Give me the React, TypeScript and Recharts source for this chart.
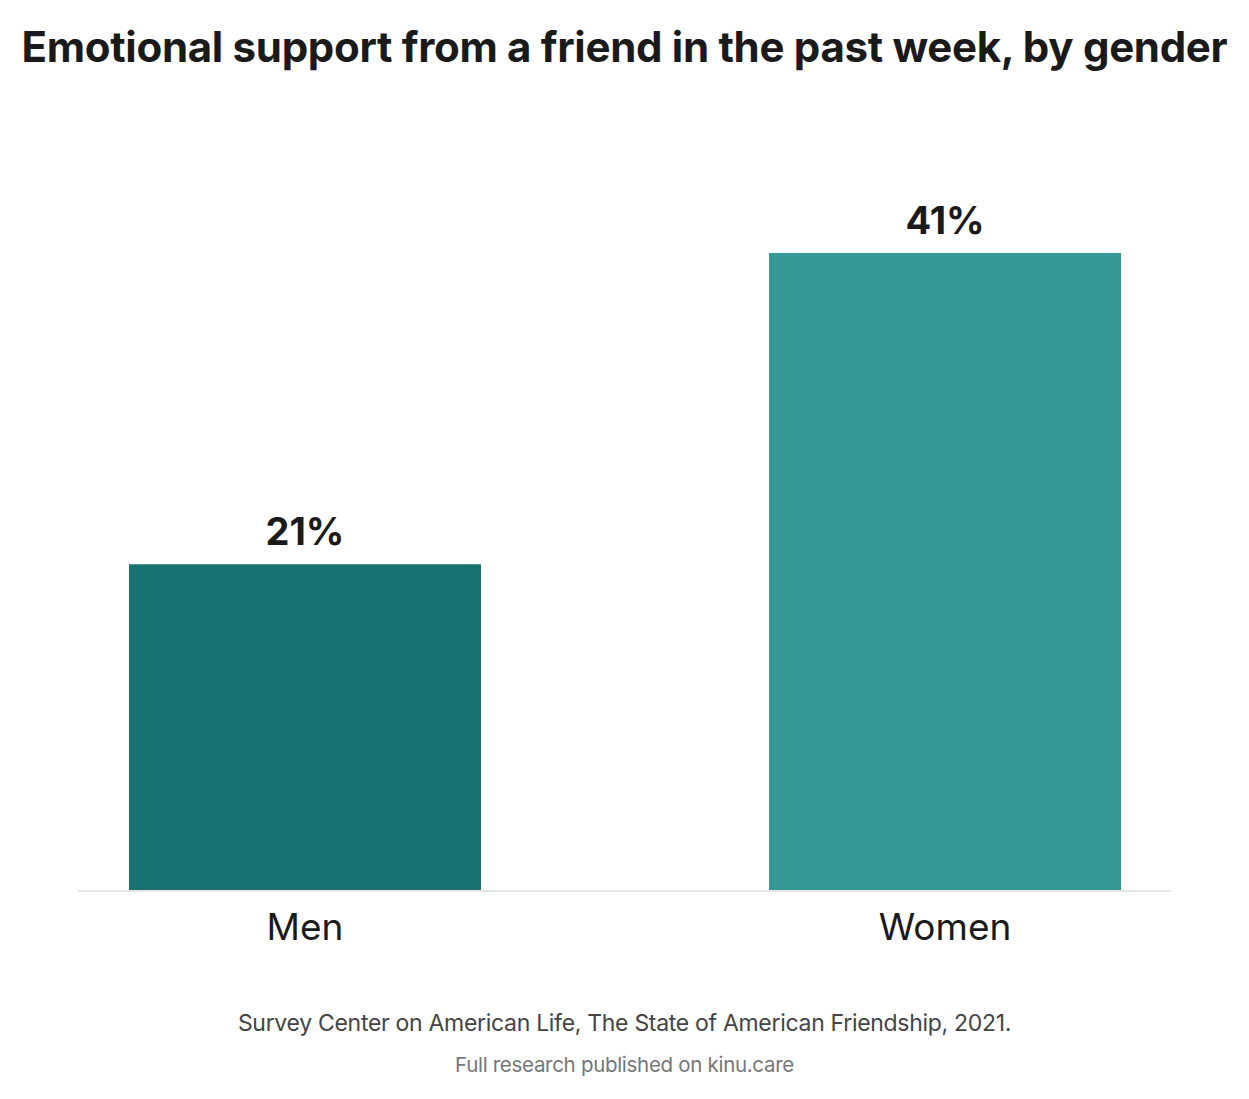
import React from 'react';
import { BarChart, Bar, XAxis, YAxis, LabelList, Cell } from 'recharts';

const categories = ['Men', 'Women'];
const shares = [21, 41];
const barColors = ['#19726f', '#369894'];

const data = categories.map((name, i) => ({ name, pos: i, value: shares[i] }));

const FONT = 'Inter, "Noto Sans", sans-serif';

const GenderTick = (props: any) => {
  const { x, y, payload } = props;
  return (
    <text x={x} y={y + 41} textAnchor="middle" fontFamily={FONT} fontSize={37} fill="#1a1a1a">
      {categories[payload.value]}
    </text>
  );
};

const App: React.FC = () => {
  return (
    <div style={{ position: 'absolute', left: 0, top: 0, width: 1249, height: 1099, background: '#fff', fontFamily: FONT }}>
      <div
        style={{
          position: 'absolute', top: 21, left: 0, width: 1249, textAlign: 'center',
          fontSize: 42, fontWeight: 700, color: '#1a1a1a', letterSpacing: -0.3, whiteSpace: 'nowrap',
        }}
      >
        Emotional support from a friend in the past week, by gender
      </div>

      <div style={{ position: 'absolute', left: 0, top: 0 }}>
        <BarChart width={1249} height={1099} data={data} margin={{ top: 113, right: 78, left: 78, bottom: 0 }}>
          <XAxis
            type="number"
            dataKey="pos"
            domain={[-0.3547, 1.353]}
            ticks={[0, 1]}
            allowDataOverflow
            height={208}
            axisLine={{ stroke: '#e6e6e6', strokeWidth: 2 }}
            tickLine={false}
            tick={<GenderTick />}
          />
          <YAxis hide domain={[0, 50]} />
          <Bar dataKey="value" barSize={352} isAnimationActive={false}>
            {data.map((d, i) => (
              <Cell key={d.name} fill={barColors[i]} />
            ))}
            <LabelList
              dataKey="value"
              position="top"
              offset={19}
              formatter={(v: any) => `${v}%`}
              style={{ fontFamily: FONT, fontSize: 38, fontWeight: 700, fill: '#1a1a1a' }}
            />
          </Bar>
        </BarChart>
      </div>

      <div style={{ position: 'absolute', top: 1009, left: 0, width: 1249, textAlign: 'center', fontSize: 23, color: '#444', letterSpacing: -0.3 }}>
        Survey Center on American Life, The State of American Friendship, 2021.
      </div>
      <div style={{ position: 'absolute', top: 1052, left: 0, width: 1249, textAlign: 'center', fontSize: 20.5, color: '#777', letterSpacing: -0.3 }}>
        Full research published on kinu.care
      </div>
    </div>
  );
};

export default App;
